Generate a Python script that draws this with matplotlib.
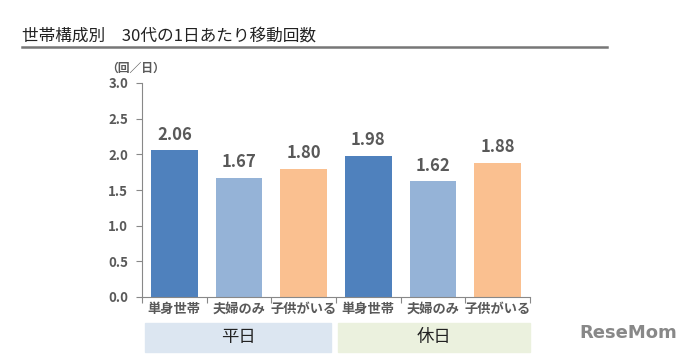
import numpy as np
import matplotlib.pyplot as plt
from matplotlib.patches import Rectangle

plt.rcParams['font.family'] = ['Noto Sans CJK JP', 'DejaVu Sans']

categories = ['単身世帯', '夫婦のみ', '子供がいる', '単身世帯', '夫婦のみ', '子供がいる']
values = [2.06, 1.67, 1.80, 1.98, 1.62, 1.88]
groups = ['平日', '休日']
colors = ['#4f81bd', '#95b3d7', '#fac090', '#4f81bd', '#95b3d7', '#fac090']
yticks = [0.0, 0.5, 1.0, 1.5, 2.0, 2.5, 3.0]

fig = plt.figure(figsize=(6.85, 3.59), dpi=100)
ax = fig.add_axes([142 / 685, 1 - 297 / 359, 388 / 685, 214 / 359])

x = np.arange(len(values))
ax.bar(x, values, width=0.72, color=colors)
for xi, v in zip(x, values):
    ax.text(xi, v + 0.09, f'{v:.2f}', ha='center', va='bottom',
            fontsize=12, fontweight='bold', color='#595959')

ax.set_xlim(-0.5, len(values) - 0.5)
ax.set_ylim(0, 3.0)
ax.set_yticks(yticks)
ax.set_yticklabels([f'{t:.1f}' for t in yticks], fontsize=9.5,
                   fontweight='bold', color='#595959')
ax.set_xticks(np.arange(-0.5, len(values)), minor=False)
ax.set_xticklabels([])
ax.tick_params(axis='x', length=4, color='#888888')
ax.tick_params(axis='y', length=4, color='#888888', pad=6)
for s in ['top', 'right']:
    ax.spines[s].set_visible(False)
ax.spines['left'].set_color('#888888')
ax.spines['bottom'].set_color('#888888')

for xi, c in zip(x, categories):
    ax.text(xi, -0.07, c, ha='center', va='top', fontsize=9.5,
            fontweight='bold', color='#595959', transform=ax.transData)

# group boxes
box_colors = ['#dce6f1', '#ebf1de']
box_x = [(145, 331), (338, 530)]
for g, bc, (x0, x1) in zip(groups, box_colors, box_x):
    fig.patches.append(Rectangle((x0 / 685, 1 - 352 / 359), (x1 - x0) / 685, 29 / 359,
                                 transform=fig.transFigure, color=bc, zorder=0))
    fig.text((x0 + x1) / 2 / 685, 1 - 337 / 359, g, ha='center', va='center',
             fontsize=12.5, color='#222222')

# title
fig.text(22 / 685, 1 - 36 / 359, '世帯構成別　30代の1日あたり移動回数', ha='left', va='center',
         fontsize=12, color='#222222')
fig.add_artist(plt.Line2D([22 / 685, 607 / 685], [1 - 47 / 359, 1 - 47 / 359],
                          transform=fig.transFigure, color='#777777', lw=1.8))

fig.text(136 / 685, 1 - 68 / 359, '（回／日）', ha='center', va='center',
         fontsize=8.5, fontweight='bold', color='#595959')

fig.text(628 / 685, 1 - 333 / 359, 'ReseMom', ha='center', va='center',
         fontsize=13, fontweight='bold', color='#888888', family='DejaVu Sans')

fig.savefig('out.png', dpi=100)
